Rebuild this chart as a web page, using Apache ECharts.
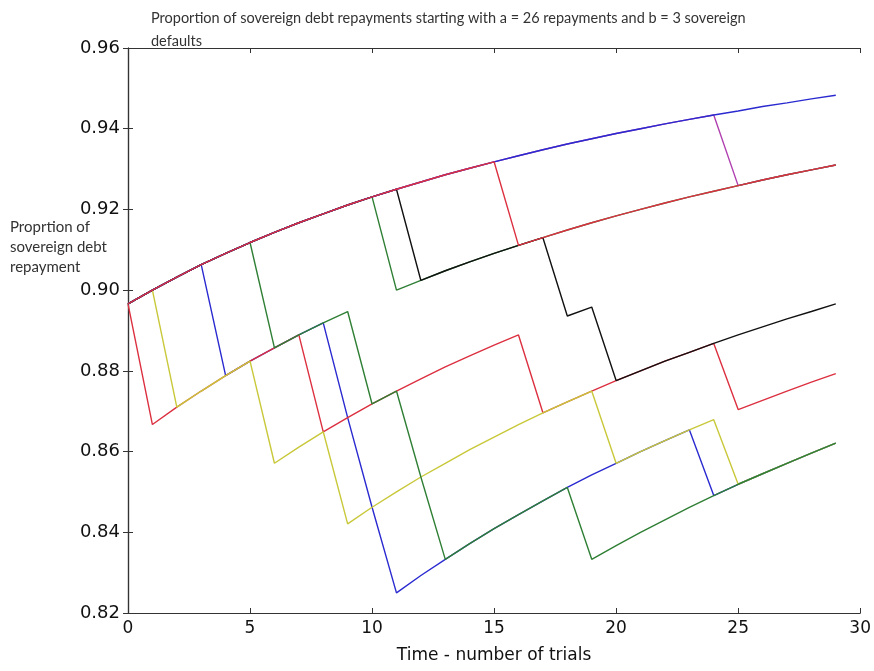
<!DOCTYPE html>
<html>
<head>
<meta charset="utf-8">
<script src="https://cdn.jsdelivr.net/npm/echarts@6/dist/echarts.min.js"></script>
<style>
html,body{margin:0;padding:0;background:#fff;}
#chart{width:874px;height:671px;}
</style>
</head>
<body>
<div id="chart"></div>
<script>
// Time axis (number of trials)
const trials = [0,1,2,3,4,5,6,7,8,9,10,11,12,13,14,15,16,17,18,19,20,21,22,23,24,25,26,27,28,29];
const xTicks = [0,5,10,15,20,25,30];
const yTicks = [0.82,0.84,0.86,0.88,0.90,0.92,0.94,0.96];

// Proportion paths (value at each trial)
const pathBlueLow = [0.8966,0.9000,0.9032,0.9063,0.8788,0.8824,0.8857,0.8889,0.8919,0.8684,0.8462,0.8250,0.8293,0.8333,0.8372,0.8409,0.8444,0.8478,0.8511,0.8542,0.8571,0.8600,0.8627,0.8654,0.8491,0.8519,0.8545,0.8571,0.8596,0.8621];
const pathRedLow = [0.8966,0.8667,0.8710,0.8750,0.8788,0.8824,0.8857,0.8889,0.8649,0.8684,0.8718,0.8750,0.8780,0.8810,0.8837,0.8864,0.8889,0.8696,0.8723,0.8750,0.8776,0.8800,0.8824,0.8846,0.8868,0.8704,0.8727,0.8750,0.8772,0.8793];
const pathYellow = [0.8966,0.9000,0.8710,0.8750,0.8788,0.8824,0.8571,0.8611,0.8649,0.8421,0.8462,0.8500,0.8537,0.8571,0.8605,0.8636,0.8667,0.8696,0.8723,0.8750,0.8571,0.8600,0.8627,0.8654,0.8679,0.8519,0.8545,0.8571,0.8596,0.8621];
const pathGreenLow = [0.8966,0.9000,0.9032,0.9063,0.9091,0.9118,0.8857,0.8889,0.8919,0.8947,0.8718,0.8750,0.8537,0.8333,0.8372,0.8409,0.8444,0.8478,0.8511,0.8333,0.8367,0.8400,0.8431,0.8462,0.8491,0.8519,0.8545,0.8571,0.8596,0.8621];
const pathMagenta = [0.8966,0.9000,0.9032,0.9063,0.9091,0.9118,0.9143,0.9167,0.9189,0.9211,0.9231,0.9250,0.9268,0.9286,0.9302,0.9318,0.9333,0.9348,0.9362,0.9375,0.9388,0.9400,0.9412,0.9423,0.9434,0.9259,0.9273,0.9286,0.9298,0.9310];
const pathGreenHigh = [0.8966,0.9000,0.9032,0.9063,0.9091,0.9118,0.9143,0.9167,0.9189,0.9211,0.9231,0.9000,0.9024,0.9048,0.9070,0.9091,0.9111,0.9130,0.9149,0.9167,0.9184,0.9200,0.9216,0.9231,0.9245,0.9259,0.9273,0.9286,0.9298,0.9310];
const pathBlack = [0.8966,0.9000,0.9032,0.9063,0.9091,0.9118,0.9143,0.9167,0.9189,0.9211,0.9231,0.9250,0.9024,0.9048,0.9070,0.9091,0.9111,0.9130,0.8936,0.8958,0.8776,0.8800,0.8824,0.8846,0.8868,0.8889,0.8909,0.8929,0.8947,0.8966];
const pathBlueTop = [0.8966,0.9000,0.9032,0.9063,0.9091,0.9118,0.9143,0.9167,0.9189,0.9211,0.9231,0.9250,0.9268,0.9286,0.9302,0.9318,0.9333,0.9348,0.9362,0.9375,0.9388,0.9400,0.9412,0.9423,0.9434,0.9444,0.9455,0.9464,0.9474,0.9483];
const pathRedHigh = [0.8966,0.9000,0.9032,0.9063,0.9091,0.9118,0.9143,0.9167,0.9189,0.9211,0.9231,0.9250,0.9268,0.9286,0.9302,0.9318,0.9111,0.9130,0.9149,0.9167,0.9184,0.9200,0.9216,0.9231,0.9245,0.9259,0.9273,0.9286,0.9298,0.9310];

const paths = [
  {name:'p1', data:pathBlueLow, color:'#2a2ad0'},
  {name:'p2', data:pathRedLow, color:'#dc3040'},
  {name:'p3', data:pathYellow, color:'#c8c83a'},
  {name:'p4', data:pathGreenLow, color:'#2f7f35'},
  {name:'p5', data:pathMagenta, color:'#b040b0'},
  {name:'p6', data:pathGreenHigh, color:'#2f7f35'},
  {name:'p7', data:pathBlack, color:'#111111'},
  {name:'p8', data:pathBlueTop, color:'#2a2ad0'},
  {name:'p9', data:pathRedHigh, color:'#dc3040'}
];

const chart = echarts.init(document.getElementById('chart'), null, {renderer:'canvas'});
const tickFont = 'DejaVu Sans';
const axisCommon = {
  axisLine:{show:true, lineStyle:{color:'#333', width:1.2}},
  axisTick:{show:true, inside:true, length:5, lineStyle:{color:'#333', width:1}},
  splitLine:{show:false}
};
const option = {
  animation:false,
  backgroundColor:'#ffffff',
  title:{
    text:'Proportion of sovereign debt repayments starting with a = 26 repayments and b = 3 sovereign\ndefaults',
    left:146, top:2,
    textStyle:{fontFamily:'Lato', fontSize:14.5, fontWeight:'normal', color:'#333', lineHeight:23}
  },
  graphic:[{
    type:'text', left:10, top:217,
    style:{text:'Proprtion of\nsovereign debt\nrepayment', font:'15px Lato', fill:'#333', lineHeight:20}
  }],
  grid:{left:128, right:8, top:48, bottom:58, containLabel:false},
  xAxis:[
    Object.assign({
      type:'value', min:xTicks[0], max:xTicks[xTicks.length-1], interval:5, position:'bottom',
      axisLabel:{fontFamily:tickFont, fontSize:17, color:'#111', margin:7},
      name:'Time - number of trials', nameLocation:'middle', nameGap:34,
      nameTextStyle:{fontFamily:tickFont, fontSize:17, color:'#111'}
    }, axisCommon),
    Object.assign({
      type:'value', min:xTicks[0], max:xTicks[xTicks.length-1], interval:5, position:'top',
      axisLabel:{show:false}
    }, axisCommon)
  ],
  yAxis:[
    Object.assign({
      type:'value', min:yTicks[0], max:yTicks[yTicks.length-1], interval:0.02, position:'left',
      axisLabel:{fontFamily:tickFont, fontSize:18, color:'#111', margin:8, formatter:v=>v.toFixed(2)}
    }, axisCommon),
    Object.assign({
      type:'value', min:yTicks[0], max:yTicks[yTicks.length-1], interval:0.02, position:'right',
      axisLabel:{show:false}
    }, axisCommon)
  ],
  series: paths.map(p=>({
    name:p.name, type:'line', xAxisIndex:0, yAxisIndex:0,
    data: trials.map((t,i)=>[t, p.data[i]]),
    showSymbol:false, symbol:'none',
    lineStyle:{color:p.color, width:1.4},
    itemStyle:{color:p.color},
    emphasis:{disabled:true}
  }))
};
chart.setOption(option);
</script>
</body>
</html>
